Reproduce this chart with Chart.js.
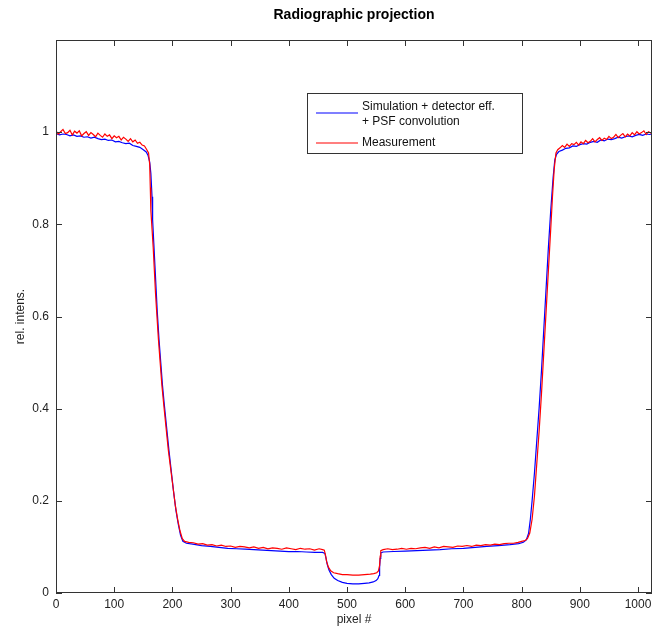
<!DOCTYPE html>
<html>
<head>
<meta charset="utf-8">
<script src="https://cdn.jsdelivr.net/npm/chart.js@4/dist/chart.umd.min.js"></script>
<style>
  body { margin:0; background:#fff; overflow:hidden; }
</style>
</head>
<body>
<canvas id="chart" width="652" height="630"></canvas>
<script>
// Data
const simPixel = [0,6,12,18,24,30,36,42,48,54,60,66,72,78,84,90,96,102,108,114,120,126,132,138,144,150,155,158,161,163,165,166,168,170,172,174,177,180,183,186,190,194,198,202,206,210,214,218,224,
  235,250,265,280,295,310,325,340,355,370,385,400,415,430,445,458,462,464,466,469,473,478,484,492,500,510,520,530,538,545,550,553,555,556,557,558,562,
  580,600,620,640,660,680,700,720,740,760,780,795,803,808,812,815,818,822,826,830,834,838,842,846,850,854,857,860,864,870,876,882,888,894,900,906,912,918,924,930,936,942,948,954,960,966,972,978,984,990,996,1002,1008,1014,1020,1024];
const simRel = [0.997,0.994,0.996,0.995,0.992,0.994,0.991,0.992,0.989,0.990,0.987,0.989,0.986,0.984,0.985,0.982,0.983,0.979,0.980,0.977,0.975,0.976,0.971,0.969,0.967,0.962,0.957,0.950,0.935,0.91,0.86,0.81,0.76,0.71,0.66,0.61,0.55,0.50,0.45,0.41,0.36,0.31,0.265,0.22,0.18,0.15,0.125,0.112,0.108,
  0.106,0.103,0.101,0.099,0.097,0.096,0.095,0.094,0.093,0.092,0.091,0.090,0.090,0.089,0.088,0.088,0.086,0.075,0.062,0.050,0.040,0.032,0.027,0.023,0.021,0.020,0.020,0.021,0.022,0.024,0.027,0.031,0.038,0.055,0.075,0.087,0.089,
  0.090,0.091,0.092,0.093,0.094,0.096,0.097,0.099,0.101,0.103,0.105,0.107,0.110,0.115,0.13,0.16,0.20,0.26,0.33,0.40,0.48,0.57,0.66,0.75,0.83,0.90,0.94,0.952,0.958,0.961,0.965,0.966,0.970,0.969,0.973,0.975,0.974,0.978,0.980,0.978,0.983,0.981,0.985,0.984,0.986,0.989,0.987,0.990,0.992,0.990,0.993,0.995,0.993,0.996,0.995,0.996];

const measPixel = [0,4,8,12,16,20,24,28,32,36,40,44,48,52,56,60,64,68,72,76,80,84,88,92,96,100,104,108,112,116,120,124,128,132,136,140,144,148,152,156,159,161,162,163,165,167,169,171,173,176,179,182,185,189,193,197,201,205,209,213,217,221,
  228,236,244,252,260,268,276,284,292,300,308,316,324,332,340,348,356,364,372,380,388,396,404,412,420,428,436,444,452,458,461,463,465,468,472,477,484,492,500,510,520,530,540,546,551,554,556,557,558,562,
  570,578,586,594,602,610,618,626,634,642,650,658,666,674,682,690,698,706,714,722,730,738,746,754,762,770,778,786,794,800,806,810,814,818,822,826,830,834,838,842,846,850,853,856,859,862,
  866,870,874,878,882,886,890,894,898,902,906,910,914,918,922,926,930,934,938,942,946,950,954,958,962,966,970,974,978,982,986,990,994,998,1002,1006,1010,1014,1018,1022,1024];
const measRel = [1.003,0.996,1.001,1.006,0.997,0.999,1.004,0.994,1.002,0.998,1.003,0.992,0.997,1.001,0.993,0.999,0.995,0.990,0.998,0.993,0.989,0.996,0.991,0.994,0.986,0.992,0.988,0.991,0.983,0.989,0.985,0.980,0.986,0.979,0.983,0.976,0.978,0.972,0.970,0.962,0.955,0.93,0.88,0.83,0.79,0.75,0.70,0.65,0.61,0.55,0.50,0.45,0.41,0.36,0.31,0.27,0.23,0.19,0.16,0.135,0.118,0.112,
  0.110,0.109,0.106,0.107,0.104,0.105,0.102,0.104,0.101,0.102,0.099,0.101,0.100,0.098,0.100,0.097,0.099,0.096,0.098,0.097,0.095,0.098,0.096,0.094,0.097,0.095,0.096,0.093,0.096,0.094,0.093,0.082,0.068,0.056,0.048,0.044,0.042,0.040,0.040,0.039,0.039,0.040,0.041,0.042,0.044,0.048,0.060,0.080,0.092,0.094,
  0.096,0.094,0.095,0.097,0.095,0.097,0.096,0.098,0.099,0.097,0.100,0.098,0.101,0.100,0.099,0.102,0.101,0.103,0.101,0.104,0.103,0.105,0.104,0.106,0.105,0.107,0.108,0.108,0.110,0.112,0.114,0.118,0.13,0.16,0.21,0.28,0.35,0.43,0.52,0.61,0.70,0.79,0.86,0.92,0.955,0.962,
  0.966,0.971,0.967,0.974,0.969,0.975,0.973,0.978,0.972,0.979,0.975,0.982,0.977,0.980,0.986,0.979,0.984,0.988,0.982,0.987,0.984,0.991,0.986,0.989,0.995,0.988,0.993,0.997,0.990,0.996,0.992,0.999,0.994,1.001,0.996,0.999,1.003,0.995,1.001,0.998,1.000];

const xTicks = [0,100,200,300,400,500,600,700,800,900,1000];
const yTicks = [0,0.2,0.4,0.6,0.8,1];
const xMax = 1024, yMax = 1.2;

const FONT = '"Liberation Sans", Arial, sans-serif';

function pairs(xs, ys){ return xs.map((x,i)=>({x:x, y:ys[i]})); }

// Box round the plot, inward ticks on all sides, the title and the boxed legend
const matlabFrame = {
  id:'matlabFrame',
  afterDatasetsDraw(chart){
    const {ctx, chartArea:a, scales} = chart;
    ctx.save();
    ctx.strokeStyle = '#333';
    ctx.lineWidth = 1;
    ctx.strokeRect(a.left+0.5, a.top+0.5, a.right-a.left-1, a.bottom-a.top-1);
    ctx.beginPath();
    xTicks.forEach(v=>{
      const p = Math.round(scales.x.getPixelForValue(v))+0.5;
      ctx.moveTo(p, a.bottom); ctx.lineTo(p, a.bottom-6);
      ctx.moveTo(p, a.top); ctx.lineTo(p, a.top+6);
    });
    yTicks.forEach(v=>{
      const p = Math.round(scales.y.getPixelForValue(v))+0.5;
      ctx.moveTo(a.left, p); ctx.lineTo(a.left+6, p);
      ctx.moveTo(a.right, p); ctx.lineTo(a.right-6, p);
    });
    ctx.stroke();

    ctx.fillStyle = '#000';
    ctx.font = 'bold 14px ' + FONT;
    ctx.textAlign = 'center';
    ctx.textBaseline = 'middle';
    ctx.fillText('Radiographic projection', (a.left+a.right)/2, 15);

    // legend
    const lx = 307, ly = 93;
    ctx.fillStyle = '#fff';
    ctx.fillRect(lx, ly, 215, 60);
    ctx.strokeStyle = '#333';
    ctx.strokeRect(lx+0.5, ly+0.5, 215, 60);
    const ds = chart.data.datasets;
    ctx.lineWidth = 1.2;
    ctx.strokeStyle = ds[0].borderColor;
    ctx.beginPath(); ctx.moveTo(lx+9, ly+20); ctx.lineTo(lx+51, ly+20); ctx.stroke();
    ctx.strokeStyle = ds[1].borderColor;
    ctx.beginPath(); ctx.moveTo(lx+9, ly+50); ctx.lineTo(lx+51, ly+50); ctx.stroke();
    ctx.fillStyle = '#111';
    ctx.font = '12px ' + FONT;
    ctx.textAlign = 'left';
    ctx.fillText('Simulation + detector eff.', lx+55, ly+14);
    ctx.fillText('+ PSF convolution', lx+55, ly+29);
    ctx.fillText(ds[1].label, lx+55, ly+50);
    ctx.restore();
  }
};

new Chart(document.getElementById('chart'), {
  type:'line',
  data:{
    datasets:[
      {label:'Simulation + detector eff. + PSF convolution', data:pairs(simPixel, simRel), borderColor:'#0000ff', borderWidth:1.2, pointRadius:0, tension:0, order:1},
      {label:'Measurement', data:pairs(measPixel, measRel), borderColor:'#ff0000', borderWidth:1.2, pointRadius:0, tension:0, order:0}
    ]
  },
  options:{
    responsive:false,
    animation:false,
    layout:{padding:{top:40, right:0, left:0, bottom:0}},
    plugins:{legend:{display:false}, title:{display:false}, tooltip:{enabled:false}},
    scales:{
      x:{
        type:'linear', min:0, max:xMax,
        afterBuildTicks: s => { s.ticks = xTicks.map(v=>({value:v})); },
        afterFit: s => { s.height = 37; s.paddingLeft = 0; s.paddingRight = 0; },
        grid:{display:false, drawTicks:false},
        border:{display:false},
        ticks:{padding:4, maxRotation:0, color:'#222', font:{family:FONT, size:12}, callback: v => String(v)},
        title:{display:true, text:'pixel #', color:'#222', font:{family:FONT, size:12}, padding:{top:0, bottom:3}}
      },
      y:{
        type:'linear', min:0, max:yMax,
        afterBuildTicks: s => { s.ticks = yTicks.map(v=>({value:v})); },
        afterFit: s => { s.width = 56; s.paddingTop = 0; s.paddingBottom = 0; },
        grid:{display:false, drawTicks:false},
        border:{display:false},
        ticks:{padding:7, color:'#222', font:{family:FONT, size:12}, callback: v => String(v)},
        title:{display:true, text:'rel. intens.', color:'#222', font:{family:FONT, size:12}, padding:{top:13, bottom:0}}
      }
    }
  },
  plugins:[matlabFrame]
});
</script>
</body>
</html>
